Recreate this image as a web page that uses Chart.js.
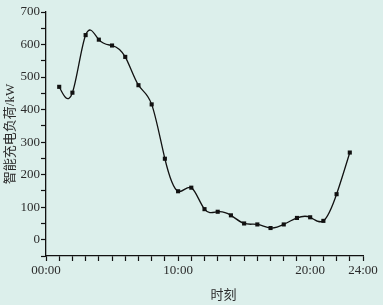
<!DOCTYPE html>
<html lang="zh">
<head>
    <meta charset="UTF-8">
    <title>智能充电负荷</title>
    <script src="https://cdn.jsdelivr.net/npm/chart.js"></script>
    <style>
        html, body { margin: 0; padding: 0; background: #dcefeb; }
        .chart-box { width: 383px; height: 305px; position: relative; }
    </style>
</head>
<body>
    <div class="chart-box">
        <canvas id="loadChart"></canvas>
    </div>
    <script>
        // hour of day for each sample
        const hours = [1, 2, 3, 4, 5, 6, 7, 8, 9, 10, 11, 12, 13, 14, 15, 16, 17, 18, 19, 20, 21, 22, 23];
        // charging load, kW
        const loadKW = [470, 452, 629, 615, 597, 562, 475, 416, 249, 149, 160, 94, 86, 75, 50, 47, 36, 47, 67, 69, 58, 140, 268];
        // tick marks on each axis and which ones get a label
        const xTicks = [0, 1, 2, 3, 4, 5, 6, 7, 8, 9, 10, 11, 12, 13, 14, 15, 16, 17, 18, 19, 20, 21, 22, 23, 24];
        const xLabelHours = [0, 10, 20, 24];
        const xLabelTexts = ['00:00', '10:00', '20:00', '24:00'];
        const yTicks = [-50, 0, 50, 100, 150, 200, 250, 300, 350, 400, 450, 500, 550, 600, 650, 700];
        const yLabelValues = [0, 100, 200, 300, 400, 500, 600, 700];

        const serif = "'Liberation Serif', 'Noto Sans CJK SC', serif";
        const textColor = '#2b2b2b';

        // the original curve is a natural cubic spline through the points,
        // so replace chart.js' bezier control points with spline ones
        const naturalSplinePlugin = {
            id: 'naturalSpline',
            beforeDatasetsDraw(chart) {
                chart.getSortedVisibleDatasetMetas().forEach(meta => {
                    const pts = meta.data;
                    const n = pts.length;
                    if (n < 3) return;
                    const h = [], d = [];
                    for (let i = 0; i < n - 1; i++) {
                        h.push(pts[i + 1].x - pts[i].x);
                        d.push((pts[i + 1].y - pts[i].y) / h[i]);
                    }
                    const M = new Array(n).fill(0);
                    const a = [], b = [], c = [], r = [];
                    for (let i = 1; i < n - 1; i++) {
                        a[i] = h[i - 1];
                        b[i] = 2 * (h[i - 1] + h[i]);
                        c[i] = h[i];
                        r[i] = 6 * (d[i] - d[i - 1]);
                    }
                    for (let i = 2; i < n - 1; i++) {
                        const w = a[i] / b[i - 1];
                        b[i] -= w * c[i - 1];
                        r[i] -= w * r[i - 1];
                    }
                    for (let i = n - 2; i >= 1; i--) {
                        M[i] = (r[i] - c[i] * M[i + 1]) / b[i];
                    }
                    for (let i = 0; i < n - 1; i++) {
                        const s0 = d[i] - h[i] * (2 * M[i] + M[i + 1]) / 6;
                        const s1 = d[i] + h[i] * (M[i] + 2 * M[i + 1]) / 6;
                        pts[i].cp2x = pts[i].x + h[i] / 3;
                        pts[i].cp2y = pts[i].y + s0 * h[i] / 3;
                        pts[i + 1].cp1x = pts[i + 1].x - h[i] / 3;
                        pts[i + 1].cp1y = pts[i + 1].y - s1 * h[i] / 3;
                    }
                    meta.dataset._pointsUpdated = true;
                    meta.dataset._path = undefined;
                });
            }
        };

        // x-axis title sits a little right of centre in the original
        const xTitlePlugin = {
            id: 'xTitle',
            afterDraw(chart) {
                const { ctx, chartArea } = chart;
                ctx.save();
                ctx.font = "13px 'Noto Sans CJK SC', serif";
                ctx.fillStyle = textColor;
                ctx.textAlign = 'center';
                ctx.textBaseline = 'middle';
                ctx.fillText('时刻', chartArea.left + (chartArea.right - chartArea.left) * 0.56, 294);
                ctx.restore();
            }
        };

        const ctx = document.getElementById('loadChart').getContext('2d');
        new Chart(ctx, {
            type: 'line',
            data: {
                datasets: [{
                    data: hours.map((h, i) => ({ x: h, y: loadKW[i] })),
                    borderColor: '#111',
                    borderWidth: 1.3,
                    backgroundColor: '#111',
                    pointStyle: 'rect',
                    pointRadius: 2.9,
                    pointBorderWidth: 0,
                    tension: 0.4,
                    fill: false
                }]
            },
            options: {
                responsive: true,
                maintainAspectRatio: false,
                animation: false,
                layout: { padding: { left: 0, right: 20, top: 12, bottom: 0 } },
                plugins: {
                    legend: { display: false },
                    tooltip: { enabled: false }
                },
                scales: {
                    x: {
                        type: 'linear',
                        min: 0,
                        max: 24,
                        afterFit(scale) { scale.height = 49; },
                        afterBuildTicks(scale) { scale.ticks = xTicks.map(v => ({ value: v })); },
                        border: { display: true, color: '#111', width: 1.3 },
                        grid: { drawOnChartArea: false, drawTicks: true, tickLength: 5, tickColor: '#111', tickWidth: 1.2 },
                        ticks: {
                            autoSkip: false,
                            maxRotation: 0,
                            padding: 2,
                            color: textColor,
                            font: { family: serif, size: 13 },
                            callback: v => {
                                const i = xLabelHours.indexOf(v);
                                return i >= 0 ? xLabelTexts[i] : '';
                            }
                        }
                    },
                    y: {
                        min: -50,
                        max: 700,
                        afterFit(scale) { scale.width = 46; },
                        afterBuildTicks(scale) { scale.ticks = yTicks.map(v => ({ value: v })); },
                        border: { display: true, color: '#111', width: 1.3 },
                        grid: { drawOnChartArea: false, drawTicks: true, tickLength: 5, tickColor: '#111', tickWidth: 1.2 },
                        title: {
                            display: true,
                            text: '智能充电负荷/kW',
                            color: textColor,
                            font: { family: serif, size: 13 },
                            padding: { top: 3, bottom: 0 }
                        },
                        ticks: {
                            autoSkip: false,
                            padding: 1,
                            color: textColor,
                            font: { family: serif, size: 13 },
                            callback: v => (yLabelValues.includes(v) ? String(v) : '')
                        }
                    }
                }
            },
            plugins: [naturalSplinePlugin, xTitlePlugin]
        });
    </script>
</body>
</html>
